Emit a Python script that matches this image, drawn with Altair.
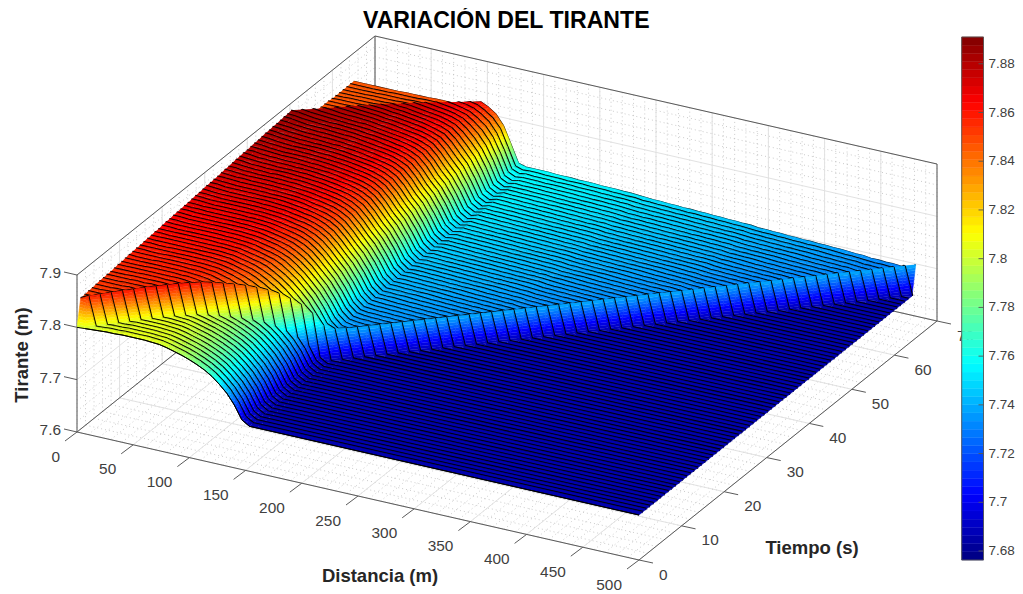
import math
import altair as alt
import pandas as pd

alt.data_transformers.disable_max_rows()

# ---------- axes ----------
d_major = [0, 50, 100, 150, 200, 250, 300, 350, 400, 450, 500]
t_major = [0, 10, 20, 30, 40, 50, 60, 70]
z_major = [7.6, 7.7, 7.8, 7.9]
d_minor = list(range(0, 501, 10))
t_minor = list(range(0, 71, 2))
z_minor = [7.62, 7.64, 7.66, 7.68, 7.72, 7.74, 7.76, 7.78, 7.82, 7.84, 7.86, 7.88]
bar_ticks = [7.68, 7.7, 7.72, 7.74, 7.76, 7.78, 7.8, 7.82, 7.84, 7.86, 7.88]

N = 75              # time rows and distance columns of the mesh
T_END = 65.0
D_END = 500.0

# depth in mm above 7.6 m ahead of the wave (t = 0 profile)
base = [200, 201, 202, 203, 204, 204, 205, 205, 205, 205, 204, 203, 200, 196, 192, 187, 181, 174, 165, 153, 139, 120, 95, 86, 86] + [86] * 51

# depth behind the wave, one list per distance column, by rows since the wave passed
hill = [
[250,251,252,252,253,254,254,255,255,256,257,257,258,259,259,260,260,261,262,262,263,263,264,265,265,266,267,267,268,268,269,270,270,271,272,272,273,273,274,275,275,276,277,277,278,278,279,280,280,281,282,282,283,283,284,285,285,286],
[251,252,252,253,254,254,255,255,256,257,257,258,258,259,260,260,261,261,262,263,263,264,264,265,266,266,267,267,268,269,269,270,270,271,272,272,273,273,274,275,275,276,276,277,278,278,279,279,280,281,281,282,282,283,284,284,285,285],
[252,253,253,254,254,255,255,256,257,257,258,258,259,259,260,260,261,262,262,263,263,264,264,265,265,266,267,267,268,268,269,269,270,270,271,272,272,273,273,274,274,275,275,276,277,277,278,278,279,279,280,281,281,282,282,283,283,284],
[253,254,254,255,255,256,256,257,257,258,258,259,259,260,260,261,262,262,263,263,264,264,265,265,266,266,267,267,268,268,269,269,270,270,271,272,272,273,273,274,274,275,275,276,276,277,277,278,278,279,279,280,280,281,281,282,282,283],
[254,255,255,256,256,257,257,258,258,259,259,260,260,261,261,262,262,263,263,264,264,265,265,266,266,267,267,268,268,269,269,270,270,271,271,272,272,273,273,274,274,275,275,275,276,276,277,277,278,278,279,279,280,280,281,281,282,282],
[254,255,255,256,257,257,258,258,259,259,260,260,261,261,262,262,263,263,264,264,265,265,266,266,267,267,268,268,269,269,270,270,271,271,272,272,272,273,273,274,274,275,275,276,276,276,277,277,278,278,279,279,279,280,280,280,281,281],
[255,256,256,257,257,258,258,259,259,260,260,261,261,262,262,263,263,264,264,265,265,266,266,267,267,268,268,269,269,270,270,271,271,272,272,273,273,273,274,274,275,275,275,276,276,276,277,277,278,278,278,279,279,279,279,280,280,280],
[255,256,256,257,258,258,259,259,260,260,261,261,262,262,263,263,264,264,265,265,266,266,267,267,268,268,269,269,269,270,270,271,271,272,272,273,273,273,274,274,275,275,275,276,276,276,277,277,277,278,278,278,278,279,279,279,279,279],
[255,256,257,257,258,258,259,259,260,260,261,261,262,262,263,263,264,264,265,265,266,266,267,267,268,268,269,269,269,270,270,271,271,271,272,272,273,273,273,274,274,274,275,275,275,276,276,276,277,277,277,277,278,278,278,278,278,278],
[255,256,257,257,258,259,259,260,260,261,261,262,262,263,263,264,264,265,265,266,266,267,267,267,268,268,269,269,269,270,270,271,271,271,272,272,272,273,273,273,274,274,274,275,275,275,276,276,276,276,277,277,277,277,277,277,277,277],
[254,255,256,257,257,258,259,259,260,260,261,261,262,262,263,263,264,264,265,265,266,266,266,267,267,268,268,268,269,269,269,270,270,270,271,271,271,272,272,272,273,273,273,273,274,274,274,274,275,275,275,275,275,275,275,275,275,275],
[253,254,255,256,257,257,258,259,259,260,260,261,261,262,262,263,263,264,264,264,265,265,266,266,266,267,267,267,268,268,268,269,269,269,270,270,270,271,271,271,271,272,272,272,272,273,273,273,273,273,274,274,274,274,274,274,274,274],
[250,251,252,253,254,255,255,256,257,257,258,259,259,260,260,261,261,262,262,263,263,263,264,264,265,265,265,266,266,266,267,267,267,268,268,268,269,269,269,269,270,270,270,270,271,271,271,271,271,272,272,272,272,272,272,272,272,272],
[246,248,249,250,251,252,253,253,254,255,255,256,257,257,258,258,259,259,260,260,261,261,262,262,262,263,263,264,264,264,265,265,265,266,266,266,267,267,267,267,268,268,268,268,269,269,269,269,269,270,270,270,270,270,270,270,270,270],
[242,244,245,247,248,249,250,251,251,252,253,254,254,255,255,256,257,257,258,258,259,259,259,260,260,261,261,262,262,262,263,263,263,264,264,264,265,265,265,265,266,266,266,266,267,267,267,267,267,268,268,268,268,268,268,268,268,268],
[237,239,241,242,243,245,246,247,248,248,249,250,251,251,252,253,253,254,254,255,255,256,256,257,257,258,258,259,259,259,260,260,261,261,261,262,262,262,263,263,263,263,264,264,264,264,265,265,265,265,265,266,266,266,266,266,266,266],
[231,233,234,236,237,238,240,241,242,242,243,244,245,246,246,247,248,248,249,250,250,251,251,252,252,253,253,254,254,255,255,256,256,256,257,257,258,258,258,259,259,259,260,260,260,261,261,261,261,262,262,262,263,263,263,263,264,264],
[224,225,227,228,229,230,231,232,233,234,235,236,236,237,238,239,239,240,241,241,242,243,243,244,244,245,245,246,246,247,247,248,248,249,249,250,250,251,251,252,252,253,253,254,254,255,255,256,256,257,257,258,258,259,259,260,261,262],
[215,216,217,218,219,220,220,221,222,222,223,224,224,225,225,226,226,227,227,228,228,229,229,230,230,231,231,232,232,233,233,234,234,235,235,236,236,237,237,238,239,239,240,240,241,242,243,244,245,246,247,248,249,250,252,253,255],
[203,204,205,205,206,206,207,207,208,208,209,209,209,210,210,210,211,211,211,212,212,212,213,213,213,214,214,214,215,215,216,216,216,217,217,218,218,219,219,220,221,222,223,224,225,226,228,229,231,233,235,237,239,241,243,245],
[189,190,190,191,191,192,192,193,193,193,194,194,194,195,195,195,196,196,196,197,197,197,198,198,198,199,199,200,200,200,201,201,202,202,203,203,204,204,205,206,206,207,208,209,210,211,212,214,215,217,219,221,223,226],
[170,171,171,172,172,172,173,173,173,174,174,174,175,175,175,175,176,176,176,176,177,177,177,177,178,178,178,179,179,179,180,180,180,181,181,182,182,183,183,184,184,185,185,186,187,188,189,190,191,192,193,194],
[148,148,149,149,149,150,150,150,150,151,151,151,151,152,152,152,152,153,153,153,153,153,154,154,154,154,155,155,155,155,155,156,156,156,156,157,157,157,157,158,158,158,158,159,159,159,160,160,160,161,161,161],
[136,136,137,137,137,138,138,138,139,139,139,140,140,140,141,141,141,142,142,142,143,143,143,144,144,144,145,145,145,146,146,146,147,147,147,148,148,149,149,149,150,150,151,151,152,152,153,153,154,155,156,157],
]

# behind the second wave that enters at d = 0 near row 58
after_wave = [258, 251, 249, 248, 248, 248, 247, 247, 247, 247, 246, 246, 246, 246, 246, 246, 246]

# flat reach beyond d = 160 m, by rows since the wave passed
far_rise = [134,134,135,135,136,136,137,137,138,139,139,140,140,141,141,142,142,143,143,144,144,145,145,146,146,147,147,148,148,149,149,150,150,151,151,152,152,153,153,154,154,154,155,155,155,156,156,156,157,157,157,157]
far_tilt = [0,0,0,0,0,0,0,0,0,0,0,0,0,0,0,-1,-1,-1,-1,-1,-1,-1,-1,-1,-1,-1,-1,-1,-1,-1,-2,-2,-2,-2,-2,-2,-2,-2,-2,-2,-2,-2,-2,-2,-2,-3,-3,-3,-3,-3,-3,-3]
far_crest = 140
hill_crest_add = 56

# ---------- view ----------
O = (77.0, 432.0)
DV = (562.0, 128.0)
TV = (298.0, -239.0)
ZV = 157.0
ZMIN, ZMAX = 7.6763, 7.891
BAND = 5.0
BAR_LEVELS = 64


def pr(d, t, z):
    return (O[0] + DV[0] * d / 500 + TV[0] * t / 70,
            O[1] + DV[1] * d / 500 + TV[1] * t / 70 - ZV * (z - 7.6) / 0.3)


def mm(i, j):
    if j > i or (i == 0 and j == 0):
        return base[j]
    k = i - j
    if k == 0:
        return base[j] + hill_crest_add if j < 24 else far_crest
    if j >= 24:
        return far_rise[min(k - 1, len(far_rise) - 1)] + far_tilt[min(j - 24, len(far_tilt) - 1)]
    if k <= 58:
        c = hill[j]
        return c[min(k - 1, len(c) - 1)]
    return after_wave[min(k - 59, len(after_wave) - 1)]


def P(i, j):
    return pr(j * D_END / N, i * T_END / N, 7.6 + mm(i, j) / 1000)


def V(i, j):
    x, y = P(i, j)
    return (x, y, float(mm(i, j)))


rows = []
gid = 0


def add(points, z, edge, width=None):
    global gid
    w = width if width is not None else (2.6 if edge else 0.5)
    for o, p in enumerate(points):
        rows.append({"g": gid, "o": o, "x": round(p[0], 2), "y": round(p[1], 2), "z": round(z, 4), "e": edge, "w": w})
    gid += 1


def clip(poly, level, keep_above):
    out = []
    for n, a in enumerate(poly):
        b = poly[(n + 1) % len(poly)]
        ina = a[2] >= level if keep_above else a[2] <= level
        inb = b[2] >= level if keep_above else b[2] <= level
        if ina:
            out.append(a)
        if ina != inb:
            s = (level - a[2]) / (b[2] - a[2])
            out.append((a[0] + (b[0] - a[0]) * s, a[1] + (b[1] - a[1]) * s, level))
    return out


def add_tri(tri):
    vs = [p[2] for p in tri]
    lo, hi = min(vs), max(vs)
    a = math.floor(lo / BAND) * BAND
    while a < hi or a == lo:
        poly = clip(clip(list(tri), a, True), a + BAND, False)
        if len(poly) >= 3:
            m = [p[2] for p in poly]
            add(poly, 7.6 + (min(m) + max(m)) / 2000, 0)
        a += BAND


def add_cell(i, j):
    A, B, C, D = V(i, j), V(i, j + 1), V(i + 1, j + 1), V(i + 1, j)
    vs = [A[2], B[2], C[2], D[2]]
    if math.floor(min(vs) / BAND) == math.floor(max(vs) / BAND):
        add([A, B, C, D], 7.6 + sum(vs) / 4000, 0)
    else:
        add_tri((A, C, D))
        add_tri((A, B, C))


def row_line(i, width=None):
    last = max(i + 1, 24)
    cols = list(range(0, min(last, N) + 1))
    if cols[-1] != N:
        cols.append(N)
    pts = [P(i, j) for j in cols]
    add(pts + pts[-2:0:-1], 7.7, 1, width)


row_line(N, 1.2)
for i in range(N - 1, -1, -1):
    stop = max(i + 2, 24)
    for j in range(0, min(stop, N)):
        add_cell(i, j)
    if stop < N:
        add([P(i, stop), P(i, N), P(i + 1, N), P(i + 1, stop)], 7.6 + 86 / 1000, 0)
    row_line(i, 1.0 if i == 0 else None)

surface_df = pd.DataFrame(rows)

# ---------- box ----------
rules_minor, rules_major, edges = [], [], []


def seg(lst, a, b):
    p, q = pr(*a), pr(*b)
    lst.append({"x": p[0], "y": p[1], "x2": q[0], "y2": q[1]})


for d in d_minor:
    seg(rules_minor, (d, 0, 7.6), (d, 70, 7.6))
    seg(rules_minor, (d, 70, 7.6), (d, 70, 7.9))
for t in t_minor:
    seg(rules_minor, (0, t, 7.6), (500, t, 7.6))
    seg(rules_minor, (0, t, 7.6), (0, t, 7.9))
for z in z_minor:
    seg(rules_minor, (0, 0, z), (0, 70, z))
    seg(rules_minor, (0, 70, z), (500, 70, z))
for d in d_major:
    seg(rules_major, (d, 0, 7.6), (d, 70, 7.6))
    seg(rules_major, (d, 70, 7.6), (d, 70, 7.9))
for t in t_major:
    seg(rules_major, (0, t, 7.6), (500, t, 7.6))
    seg(rules_major, (0, t, 7.6), (0, t, 7.9))
for z in z_major:
    seg(rules_major, (0, 0, z), (0, 70, z))
    seg(rules_major, (0, 70, z), (500, 70, z))

for a, b in [((0, 0, 7.6), (500, 0, 7.6)), ((500, 0, 7.6), (500, 70, 7.6)), ((0, 0, 7.6), (0, 70, 7.6)),
             ((0, 70, 7.6), (500, 70, 7.6)), ((0, 0, 7.6), (0, 0, 7.9)), ((0, 0, 7.9), (0, 70, 7.9)),
             ((0, 70, 7.9), (500, 70, 7.9)), ((0, 70, 7.6), (0, 70, 7.9)), ((500, 70, 7.6), (500, 70, 7.9))]:
    seg(edges, a, b)

labels = []
for d in d_major:
    x, y = pr(d, 0, 7.6)
    edges.append({"x": x, "y": y, "x2": x - 12, "y2": y + 9})
    labels.append({"x": x - 17, "y": y + 24.5, "text": str(d), "align": "right"})
for t in t_major:
    x, y = pr(500, t, 7.6)
    edges.append({"x": x, "y": y, "x2": x + 14, "y2": y + 3})
    labels.append({"x": x + 20, "y": y + 14.5, "text": str(t), "align": "left"})
for z in z_major:
    x, y = pr(0, 0, z)
    edges.append({"x": x, "y": y, "x2": x - 13, "y2": y - 3})
    labels.append({"x": x - 16, "y": y - 2, "text": f"{z:.1f}", "align": "right"})

X = alt.X("x:Q", scale=alt.Scale(domain=[8, 1015], nice=False, zero=False), axis=None)
Y = alt.Y("y:Q", scale=alt.Scale(domain=[592, 36], nice=False, zero=False), axis=None)

stops = [ZMIN + (ZMAX - ZMIN) * s for s in [0, 0.125, 0.375, 0.625, 0.875, 1]]
jet_colors = ["#000080", "#0000ff", "#00ffff", "#ffff00", "#ff0000", "#800000"]
jet = alt.Scale(domain=stops, range=jet_colors, interpolate="rgb", clamp=True)


def rule_layer(data, **kw):
    return alt.Chart(pd.DataFrame(data)).mark_rule(**kw).encode(x=X, y=Y, x2="x2:Q", y2="y2:Q")


minor = rule_layer(rules_minor, color="#b4b4b4", strokeWidth=0.7, strokeDash=[1, 3])
major = rule_layer(rules_major, color="#e2e2e2", strokeWidth=1)
box = rule_layer(edges, color="#5a5a5a", strokeWidth=1)

surface = alt.Chart(surface_df).mark_line(interpolate="linear", strokeJoin="bevel").encode(
    x=X, y=Y,
    detail="g:N",
    order="o:Q",
    fill=alt.Fill("z:Q", scale=jet, legend=None),
    stroke=alt.condition("datum.e == 1", alt.value("#000000"), alt.Stroke("z:Q", scale=jet, legend=None)),
    strokeWidth=alt.StrokeWidth("w:Q", scale=None),
)

tick_text = alt.Chart(pd.DataFrame(labels))
texts = [
    tick_text.transform_filter(f"datum.align == '{a}'").mark_text(
        font="Liberation Sans", fontSize=15.4, color="#404040", align=a, baseline="middle"
    ).encode(x=X, y=Y, text="text:N")
    for a in ["left", "right"]
]

axis_titles = pd.DataFrame([
    {"x": 380, "y": 576, "text": "Distancia (m)"},
    {"x": 812, "y": 548, "text": "Tiempo (s)"},
])
t_layer = alt.Chart(axis_titles).mark_text(font="Liberation Sans", fontSize=18.5, fontWeight="bold", color="#262626",
                                           baseline="middle").encode(x=X, y=Y, text="text:N")
z_title = alt.Chart(pd.DataFrame([{"x": 22, "y": 355, "text": "Tirante (m)"}])).mark_text(
    font="Liberation Sans", fontSize=18.5, fontWeight="bold", color="#262626", baseline="middle", angle=270
).encode(x=X, y=Y, text="text:N")

# ---------- colour bar ----------
BX0, BX1, BY0, BY1 = 961.7, 983.5, 560.0, 37.0


def bar_y(z):
    return BY0 + (BY1 - BY0) * (z - ZMIN) / (ZMAX - ZMIN)


bar_rows = []
for n in range(BAR_LEVELS):
    z0 = ZMIN + (ZMAX - ZMIN) * n / BAR_LEVELS
    z1 = ZMIN + (ZMAX - ZMIN) * (n + 1) / BAR_LEVELS
    bar_rows.append({"x": BX0, "x2": BX1, "y": bar_y(z0), "y2": bar_y(z1), "z": (z0 + z1) / 2})
bar = alt.Chart(pd.DataFrame(bar_rows)).mark_rect(strokeWidth=0.4).encode(
    x=X, x2="x2:Q", y=Y, y2="y2:Q",
    fill=alt.Fill("z:Q", scale=jet, legend=None),
    stroke=alt.Stroke("z:Q", scale=jet, legend=None),
)
bar_frame = [
    {"x": BX0, "y": BY0, "x2": BX1, "y2": BY0}, {"x": BX0, "y": BY1, "x2": BX1, "y2": BY1},
    {"x": BX0, "y": BY0, "x2": BX0, "y2": BY1}, {"x": BX1, "y": BY0, "x2": BX1, "y2": BY1},
]
bar_frame += [{"x": BX1 - 5, "y": bar_y(v), "x2": BX1, "y2": bar_y(v)} for v in bar_ticks]
bar_lines = rule_layer(bar_frame, color="#555555", strokeWidth=0.9)
bar_labels = alt.Chart(pd.DataFrame([
    {"x": 988.5, "y": bar_y(v), "text": f"{v:.3f}".rstrip("0")} for v in bar_ticks
])).mark_text(font="Liberation Sans", fontSize=13.5, color="#404040", align="left", baseline="middle").encode(
    x=X, y=Y, text="text:N")

chart = alt.layer(minor, major, box, surface, *texts, t_layer, z_title, bar, bar_lines, bar_labels).properties(
    width=1007, height=556,
    padding={"left": 0, "top": 28, "right": 0, "bottom": 0},
    autosize=alt.AutoSizeParams(type="none"),
    title=alt.TitleParams("VARIACIÓN DEL TIRANTE", font="Liberation Sans", fontSize=23.1, fontWeight="bold",
                          color="#000000", anchor="start", dx=355, offset=2),
).configure_view(stroke=None)

chart.save("out.html", embed_options={"renderer": "svg", "actions": False})
